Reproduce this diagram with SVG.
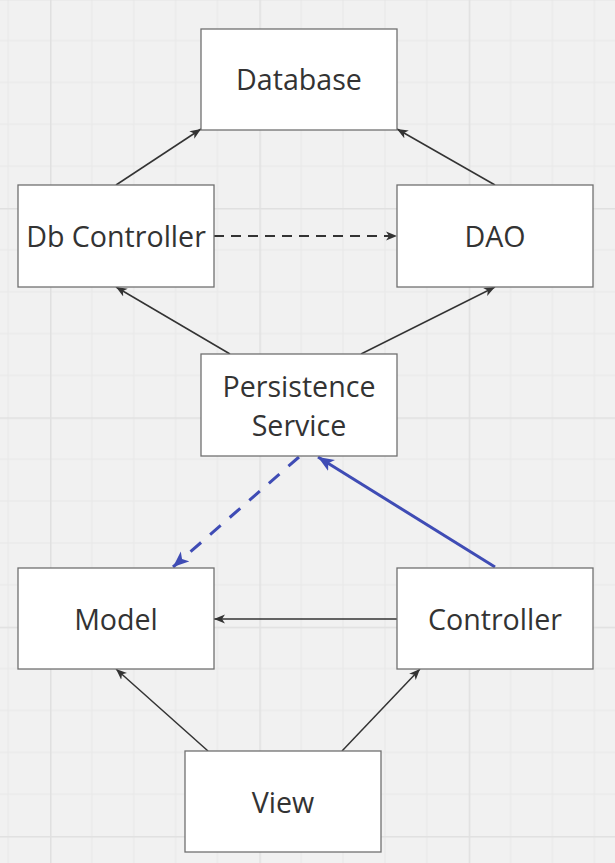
<svg xmlns="http://www.w3.org/2000/svg" width="615" height="863" viewBox="0 0 615 863">
  <defs>
    <pattern id="grid" patternUnits="userSpaceOnUse" x="50" y="208" width="209.35" height="209.35">
      <rect width="209.35" height="209.35" fill="#f1f1f1"/>
      <path d="M41.87,0V209.35M83.74,0V209.35M125.61,0V209.35M167.48,0V209.35M0,41.87H209.35M0,83.74H209.35M0,125.61H209.35M0,167.48H209.35" stroke="#e8e8e8" stroke-width="1" fill="none"/>
      <path d="M0.75,0V209.35M0,0.75H209.35" stroke="#e0e0e0" stroke-width="1.5" fill="none"/>
    </pattern>
    <marker id="ah" markerUnits="userSpaceOnUse" markerWidth="12" markerHeight="10" refX="11" refY="5" orient="auto" viewBox="0 0 12 10">
      <path d="M0,0.5 L11,5 L0,9.5 L3,5 Z" fill="#333"/>
    </marker>
    <marker id="ahb" markerUnits="userSpaceOnUse" markerWidth="17" markerHeight="14" refX="16" refY="7" orient="auto" viewBox="0 0 17 14">
      <path d="M0,0.5 L16,7 L0,13.5 L4,7 Z" fill="#3f4cb5"/>
    </marker>
    <style>
      .box { fill: #ffffff; stroke: #707070; stroke-width: 1.3; }
      .lbl { font-family: "Open Sans", "Liberation Sans", sans-serif; font-size: 28.6px; fill: #333333; text-anchor: middle; }
      .c { fill: none; stroke: #333333; stroke-width: 1.5; marker-end: url(#ah); }
      .dash { stroke-dasharray: 10 7; stroke-width: 1.8; }
      .b { fill: none; stroke: #3f4cb5; stroke-width: 3; marker-end: url(#ahb); }
      .bdash { stroke-dasharray: 14 12; }
    </style>
  </defs>
  <rect width="615" height="863" fill="url(#grid)"/>

  <g id="connectors">
    <line class="c" x1="116" y1="185" x2="201" y2="129"/>
    <line class="c" x1="495" y1="185" x2="397" y2="129"/>
    <line class="c dash" x1="214" y1="236" x2="397" y2="236"/>
    <line class="c" x1="230" y1="354" x2="116" y2="287"/>
    <line class="c" x1="361" y1="354" x2="495" y2="287"/>
    <line class="c" x1="397" y1="619" x2="214" y2="619"/>
    <line class="c" x1="208" y1="751" x2="116" y2="669"/>
    <line class="c" x1="342" y1="751" x2="420" y2="669"/>
    <line class="b bdash" x1="299" y1="457" x2="173" y2="567"/>
    <line class="b" x1="495" y1="567" x2="318" y2="457"/>
  </g>

  <g id="database">
    <rect class="box" x="201" y="29" width="196" height="101"/>
    <text class="lbl" x="299" y="90">Database</text>
  </g>
  <g id="db-controller">
    <rect class="box" x="18" y="185" width="196" height="102"/>
    <text class="lbl" x="116" y="247">Db Controller</text>
  </g>
  <g id="dao">
    <rect class="box" x="397" y="185" width="196" height="102"/>
    <text class="lbl" x="495" y="247">DAO</text>
  </g>
  <g id="persistence-service">
    <rect class="box" x="201" y="354" width="196" height="102"/>
    <text class="lbl" x="299" y="397">Persistence</text>
    <text class="lbl" x="299" y="436">Service</text>
  </g>
  <g id="model">
    <rect class="box" x="18" y="568" width="196" height="101"/>
    <text class="lbl" x="116" y="630">Model</text>
  </g>
  <g id="controller">
    <rect class="box" x="397" y="568" width="196" height="101"/>
    <text class="lbl" x="495" y="630">Controller</text>
  </g>
  <g id="view">
    <rect class="box" x="185" y="751" width="196" height="101"/>
    <text class="lbl" x="283" y="813">View</text>
  </g>
</svg>
